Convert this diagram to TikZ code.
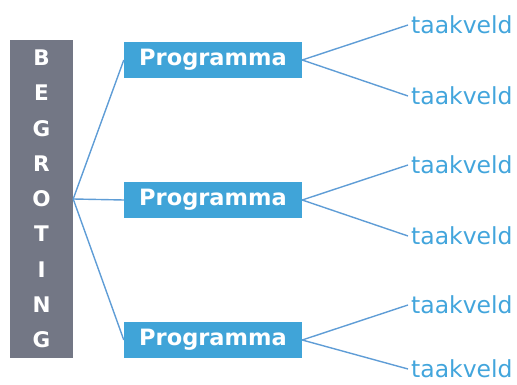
\documentclass[tikz,border=0pt]{standalone}
\usepackage{fontspec}
\setmainfont{DejaVu Sans}
\definecolor{begrgray}{RGB}{115,119,133}
\definecolor{progblue}{RGB}{64,164,216}
\definecolor{linkblue}{RGB}{95,157,214}
\definecolor{veldblue}{RGB}{66,165,220}

\begin{document}
\begin{tikzpicture}[%
    x=1pt, y=-1pt,
    begr/.style={fill=begrgray, text=white, minimum width=63pt, minimum height=318pt,
        align=center, inner sep=0pt, font=\bfseries\fontsize{21.5}{35.3}\selectfont},
    prog/.style={fill=progblue, text=white, minimum width=178pt, minimum height=36.5pt,
        inner sep=0pt, font=\bfseries\fontsize{22.5}{26}\selectfont},
    veld/.style={anchor=west, text=veldblue, inner sep=3pt,
        font=\fontsize{23.5}{26}\selectfont},
    link/.style={draw=linkblue, line width=1.4pt}
    ]
    \useasboundingbox (0,0) rectangle (517,385);

    \node[begr] (b) at (41.5,199) {B\\E\\G\\R\\O\\T\\I\\N\\G};

    \node[prog] (p1) at (213,60) {Programma};
    \node[prog] (p2) at (213,200) {Programma};
    \node[prog] (p3) at (213,340) {Programma};

    \node[veld] (t1) at (408,25) {taakveld};
    \node[veld] (t2) at (408,96) {taakveld};
    \node[veld] (t3) at (408,165) {taakveld};
    \node[veld] (t4) at (408,236) {taakveld};
    \node[veld] (t5) at (408,305) {taakveld};
    \node[veld] (t6) at (408,369) {taakveld};

    \path[link] (b.east) edge (p1.west);
    \path[link] (b.east) edge (p2.west);
    \path[link] (b.east) edge (p3.west);
    \path[link] (p1.east) edge (t1.west);
    \path[link] (p1.east) edge (t2.west);
    \path[link] (p2.east) edge (t3.west);
    \path[link] (p2.east) edge (t4.west);
    \path[link] (p3.east) edge (t5.west);
    \path[link] (p3.east) edge (t6.west);

\end{tikzpicture}
\end{document}
